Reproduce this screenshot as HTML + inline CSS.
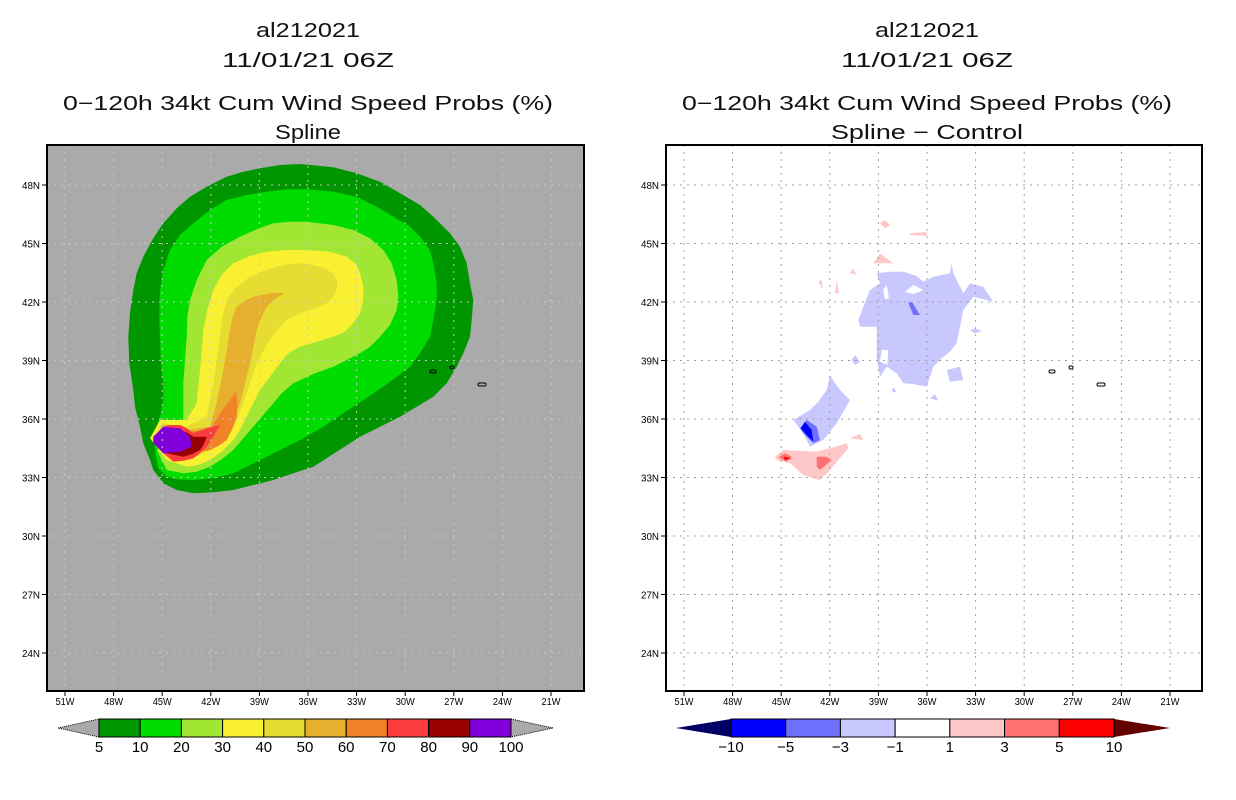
<!DOCTYPE html>
<html><head><meta charset="utf-8"><style>
html,body{margin:0;padding:0;background:#fff;}
svg{display:block;font-family:"Liberation Sans",sans-serif;}
</style></head><body>
<svg id="chart" width="1236" height="800" viewBox="0 0 1236 800" xmlns="http://www.w3.org/2000/svg">
<g id="root"></g>
</svg>
<script>
// ---- data arrays ----
const lonTicks = [-51,-48,-45,-42,-39,-36,-33,-30,-27,-24,-21];
const latTicks = [48,45,42,39,36,33,30,27,24];
const probLevels = [5,10,20,30,40,50,60,70,80,90,100];
const probColors = ["#009600","#00dc00","#a0e632","#faf032","#e6dc32","#e6af2d","#f08228","#fa3c3c","#960000","#8200dc"];
const diffLevels = ["-10","-5","-3","-1","1","3","5","10"];
const diffColors = ["#0000ff","#7070ff","#c8c8ff","#ffffff","#ffc8c8","#ff7070","#ff0000"];

// contour shapes (left panel, zoom-space coordinates, level index into probColors)
const probShapes = [
 [0,[[600,42],[700,52],[770,70],[840,95],[900,130],[960,165],[1000,200],[1050,250],[1080,290],[1100,340],[1110,400],[1120,450],[1115,510],[1110,560],[1090,610],[1070,650],[1040,700],[1000,740],[950,770],[900,800],[840,830],[780,860],[710,905],[640,950],[580,970],[520,990],[460,1005],[400,1020],[340,1027],[280,1030],[230,1020],[190,1000],[160,960],[150,930],[130,880],[120,830],[105,770],[100,720],[88,640],[85,560],[90,490],[100,420],[110,370],[130,320],[160,265],[190,220],[230,175],[270,140],[320,110],[380,80],[430,65],[480,55],[540,45]]],
 [1,[[620,118],[700,125],[770,140],[830,170],[880,200],[930,230],[960,260],[990,300],[1000,340],[1010,400],[1010,450],[1000,510],[990,560],[960,610],[930,650],[890,680],[850,710],[790,750],[730,790],[670,830],[600,870],[550,895],[500,920],[450,945],[400,970],[340,985],[280,990],[230,988],[200,980],[175,955],[170,930],[160,860],[180,800],[190,750],[190,700],[182,630],[180,560],[178,490],[180,420],[190,360],[210,300],[240,255],[280,220],[330,180],[380,150],[440,135],[500,125],[560,118]]],
 [2,[[620,215],[700,225],[760,240],[810,265],[850,300],[875,340],[890,390],[895,440],[890,480],[870,525],[840,560],[810,590],[780,610],[740,630],[700,650],[640,672],[580,700],[545,730],[520,760],[490,795],[460,830],[430,865],[400,900],[365,928],[330,950],[290,965],[250,970],[200,960],[170,900],[240,870],[250,800],[250,700],[255,630],[260,560],[262,500],[270,450],[290,390],[320,330],[365,290],[420,260],[470,238],[520,220],[570,215]]],
 [3,[[620,300],[690,305],[740,320],[770,345],[780,370],[790,410],[790,450],[780,490],[760,520],[735,545],[700,560],[650,575],[600,590],[565,610],[540,640],[510,680],[480,720],[460,760],[440,800],[420,840],[400,870],[365,905],[330,930],[295,945],[260,950],[200,930],[150,865],[180,810],[260,810],[290,760],[295,710],[300,660],[305,600],[310,540],[322,480],[340,420],[365,375],[400,340],[450,318],[500,305],[560,300]]],
 [4,[[610,340],[665,352],[700,370],[712,395],[710,420],[700,440],[680,460],[640,476],[600,490],[560,510],[530,540],[500,585],[470,640],[450,700],[430,760],[415,800],[400,840],[365,875],[330,900],[295,918],[260,930],[200,920],[165,860],[185,820],[260,830],[320,800],[330,750],[340,700],[350,630],[360,560],[368,500],[380,450],[410,410],[450,380],[490,362],[530,350],[570,342]]],
 [5,[[555,428],[525,448],[500,470],[485,500],[470,540],[460,590],[450,640],[435,700],[420,760],[405,800],[390,840],[360,868],[330,890],[290,905],[250,915],[190,900],[170,860],[190,825],[260,840],[330,830],[350,760],[360,710],[370,660],[380,600],[390,540],[398,500],[410,470],[435,452],[460,440],[510,430]]],
 [6,[[408,725],[412,760],[410,800],[395,840],[380,870],[355,888],[330,900],[290,908],[250,912],[190,895],[175,850],[195,828],[260,845],[330,840],[345,815],[360,790],[375,770],[390,750]]],
 [7,[[360,825],[340,860],[320,890],[300,910],[280,925],[250,932],[220,935],[185,905],[180,840],[200,826],[240,825],[260,835],[280,850],[320,835]]],
 [8,[[320,860],[312,882],[300,900],[275,913],[250,920],[200,910],[180,880],[190,835],[240,840],[265,850],[280,860]]],
 [9,[[160,860],[190,830],[240,835],[270,860],[275,890],[240,905],[190,910],[160,880]]]
];
// right panel shapes (zoom-space), index into diffColors
const diffShapes = [
 [2,[[265,330],[280,290],[300,240],[330,220],[320,190],[360,185],[400,185],[440,198],[460,215],[490,200],[540,190],[545,160],[550,190],[580,250],[600,220],[640,230],[670,275],[650,270],[610,260],[580,300],[570,350],[560,400],[540,425],[520,440],[505,455],[490,470],[480,500],[470,530],[430,522],[400,520],[380,490],[350,470],[330,500],[320,440],[320,400],[320,350],[270,350]]],
 [2,[[70,630],[95,615],[120,600],[145,575],[170,540],[180,495],[195,520],[210,540],[240,570],[220,605],[200,640],[180,665],[160,690],[120,710],[100,670]]],
 [2,[[530,480],[570,470],[580,510],[540,515]]],
 [2,[[245,450],[255,435],[270,455],[255,465]]],
 [2,[[600,362],[615,355],[635,363],[615,370]]],
 [2,[[480,565],[495,552],[505,572]]],
 [2,[[365,540],[372,532],[378,545],[370,548]]],
 [3,[[340,240],[350,225],[357,265],[345,268]]],
 [3,[[405,245],[430,225],[460,240],[430,252]]],
 [3,[[335,420],[355,420],[352,465],[330,455]]],
 [1,[[415,278],[425,275],[450,315],[430,315]]],
 [1,[[90,655],[110,630],[140,650],[150,690],[130,700],[100,670]]],
 [0,[[92,655],[105,635],[125,660],[130,695],[115,680]]],
 [4,[[15,740],[40,720],[140,725],[190,712],[230,700],[235,715],[205,750],[180,780],[150,810],[100,795],[60,760],[20,750]]],
 [5,[[140,740],[170,740],[185,750],[150,780],[140,770]]],
 [5,[[25,742],[45,730],[65,740],[50,755]]],
 [6,[[40,740],[65,745],[45,750]]],
 [4,[[310,160],[370,160],[330,130]]],
 [4,[[330,40],[345,30],[360,45],[345,55]]],
 [4,[[420,70],[470,66],[470,78],[420,75]]],
 [4,[[240,190],[250,175],[258,195]]],
 [4,[[145,215],[155,210],[158,240]]],
 [4,[[195,250],[200,210],[207,250]]],
 [4,[[240,685],[270,672],[280,690]]]
];

const NS="http://www.w3.org/2000/svg";
const root=document.getElementById('root');
function mk(tag,attrs,parent){const e=document.createElementNS(NS,tag);for(const k in attrs)e.setAttribute(k,attrs[k]);(parent||root).appendChild(e);return e;}

const panels=[{x0:47,x1:584,off:0,bg:"#aaaaaa",grid:"#c8c8c8",cx:308,title:"Spline",name:"spline",zx:100,zy:150},
              {x0:666,x1:1202,off:619,bg:"#ffffff",grid:"#a0a0a0",cx:927,title:"Spline \u2212 Control",name:"difference",zx:770,zy:210}];
const y0=145,y1=691;
function lonX(lon,p){return 65+p.off+(lon+51)*16.2;}
function latY(lat){return 185+(48-lat)*19.5;}

panels.forEach((p,pi)=>{
  const g=mk('g',{});
  
  
  const tl=[["al212021",37],["11/01/21 06Z",67],["0\u2212120h 34kt Cum Wind Speed Probs (%)",110],[p.title,139]];
  const tw=[104,172,490,pi?192:66];
  tl.forEach((t,i)=>{const e=mk('text',{x:p.cx,y:t[1],'text-anchor':'middle','font-size':20,textLength:tw[i],lengthAdjust:'spacingAndGlyphs',fill:'#111'},g);e.textContent=t[0];
    
    });
  const cp='clip'+pi;
  const cl=mk('clipPath',{id:cp},g);mk('rect',{x:p.x0,y:y0,width:p.x1-p.x0,height:y1-y0},cl);
  const bg=mk('rect',{x:p.x0,y:y0,width:p.x1-p.x0,height:y1-y0,fill:p.bg},g);
  
  
  const mg=mk('g',{'clip-path':'url(#'+cp+')'},g);
  const shapes=pi?diffShapes:probShapes, cols=pi?diffColors:probColors;
  shapes.forEach(s=>{
    const pts=s[1].map(q=>(p.zx+q[0]/3).toFixed(1)+','+(p.zy+q[1]/3).toFixed(1)).join(' ');
    const e=mk('polygon',{points:pts,fill:cols[s[0]]},mg);
    
    
  });
  [[430,370,6,3],[450,366,4,3],[478,383,8,3]].forEach(a=>{
    const e=mk('rect',{x:a[0]+p.off,y:a[1],width:a[2],height:a[3],rx:1.5,fill:'none',stroke:'#000','stroke-width':1},mg);
    
    
  });
  lonTicks.forEach(l=>{const x=lonX(l,p);const e=mk('line',{x1:x,y1:y0,x2:x,y2:y1,stroke:p.grid,'stroke-dasharray':'2,5'},mg);
    
    });
  latTicks.forEach(l=>{const y=latY(l);const e=mk('line',{x1:p.x0,y1:y,x2:p.x1,y2:y,stroke:p.grid,'stroke-dasharray':'2,5'},mg);
    
    });
  const fr=mk('rect',{x:p.x0,y:y0,width:p.x1-p.x0,height:y1-y0,fill:'none',stroke:'#000','stroke-width':2},g);
  
  
  lonTicks.forEach(l=>{const x=lonX(l,p);mk('line',{x1:x,y1:y1,x2:x,y2:y1+5,stroke:'#000'},g);
    const t=mk('text',{x:x,y:y1+14,'text-anchor':'middle','font-size':10,textLength:19,lengthAdjust:'spacingAndGlyphs'},g);t.textContent=Math.abs(l)+'W';
    
    });
  latTicks.forEach(l=>{const y=latY(l);mk('line',{x1:p.x0-5,y1:y,x2:p.x0,y2:y,stroke:'#000'},g);
    const t=mk('text',{x:p.x0-7,y:y+4,'text-anchor':'end','font-size':10,textLength:18,lengthAdjust:'spacingAndGlyphs'},g);t.textContent=l+'N';
    
    });
  const cb=mk('g',{},g);
  
  
  const bx0=pi?731:99,bx1=pi?1114:511,ta=pi?676:58,tb=pi?1170:553,cy0=719,cy1=737;
  const n=cols.length,w=(bx1-bx0)/n;
  const lc=pi?"#000064":"#aaaaaa", rc=pi?"#640000":"#aaaaaa";
  mk('polygon',{points:`${ta},${(cy0+cy1)/2} ${bx0},${cy0} ${bx0},${cy1}`,fill:lc,stroke:pi?'none':'#000','stroke-dasharray':'1,1'},cb);
  mk('polygon',{points:`${tb},${(cy0+cy1)/2} ${bx1},${cy0} ${bx1},${cy1}`,fill:rc,stroke:pi?'none':'#000','stroke-dasharray':'1,1'},cb);
  cols.forEach((c,i)=>{const e=mk('rect',{x:bx0+i*w,y:cy0,width:w,height:cy1-cy0,fill:c,stroke:'#000','stroke-width':1},cb);
    
    });
  const labs=pi?diffLevels:probLevels;
  labs.forEach((v,i)=>{const t=mk('text',{x:bx0+i*w,y:cy1+15,'text-anchor':'middle','font-size':15},cb);t.textContent=String(v).replace('-','\u2212');
    
    });
});
</script>
</body></html>
